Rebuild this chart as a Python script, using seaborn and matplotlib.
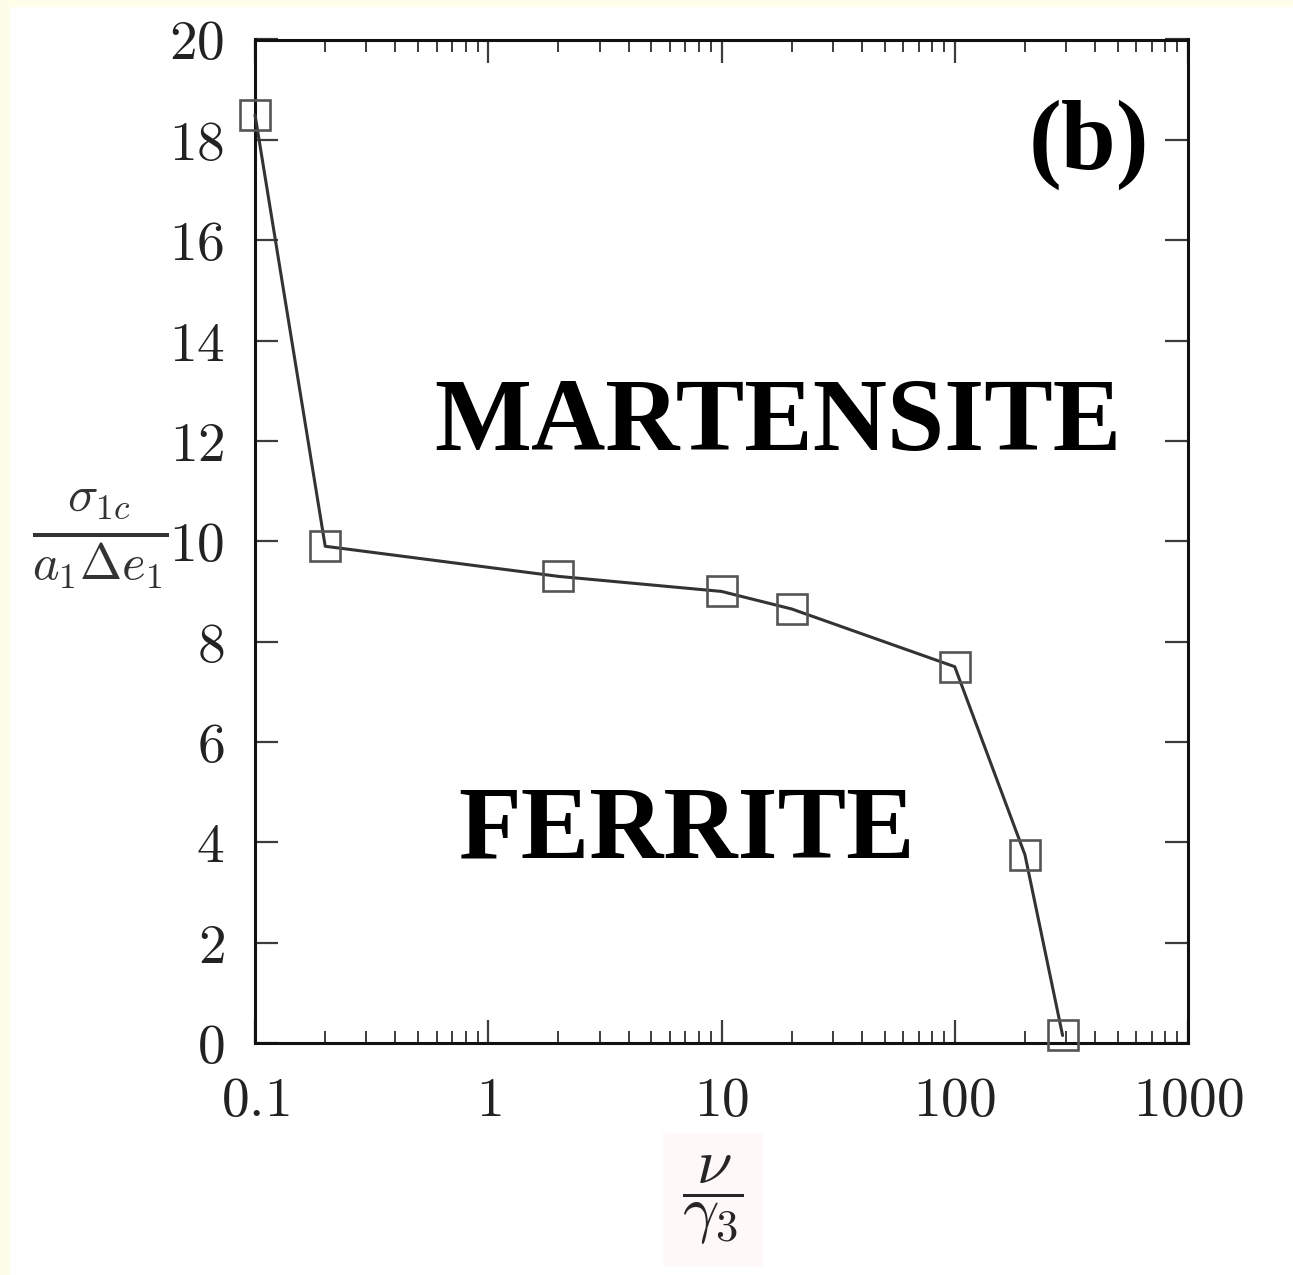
import numpy as np
import pandas as pd
import matplotlib
matplotlib.use("Agg")
import matplotlib.pyplot as plt
from matplotlib.patches import Rectangle
from matplotlib.ticker import FixedLocator, FixedFormatter, LogLocator, NullFormatter
import seaborn as sns

# Critical stress vs. rate ratio (phase boundary)
nu_over_gamma = [0.1, 0.2, 2, 10, 20, 100, 200, 290]
sigma_crit = [18.5, 9.9, 9.3, 9.0, 8.65, 7.5, 3.75, 0.15]

x_ticks = [0.1, 1, 10, 100, 1000]
x_tick_labels = ["$0.1$", "$1$", "$10$", "$100$", "$1000$"]
y_ticks = [0, 2, 4, 6, 8, 10, 12, 14, 16, 18, 20]
y_tick_labels = [f"${v}$" for v in y_ticks]

region_labels = ["MARTENSITE", "FERRITE"]
panel_label = "(b)"

sns.set_style("ticks")
plt.rcParams["mathtext.fontset"] = "cm"
plt.rcParams["font.family"] = ["Liberation Serif", "DejaVu Serif"]

W, H = 1293, 1275
fig = plt.figure(figsize=(W / 100, H / 100), dpi=100, facecolor="white")

# cream page margin on the left and top
cream = "#fefee8"
fig.patches.append(Rectangle((0, 0), 9 / W, 1, transform=fig.transFigure, color=cream, zorder=0))
fig.patches.append(Rectangle((0, 1 - 6 / H), 1, 6 / H, transform=fig.transFigure, color=cream, zorder=0))

left, right, top, bottom = 255, 1188, 39.5, 1043
ax = fig.add_axes([left / W, 1 - bottom / H, (right - left) / W, (bottom - top) / H])
ax.set_xscale("log")

df = pd.DataFrame({"ratio": nu_over_gamma, "sigma": sigma_crit})
sns.lineplot(data=df, x="ratio", y="sigma", ax=ax, color="#333333", lw=2.2,
             marker="s", markersize=21, markerfacecolor="none",
             markeredgecolor="#555555", markeredgewidth=1.9, clip_on=False, zorder=3)

ax.set_xlim(0.1, 1000)
ax.set_ylim(0, 20)

ax.xaxis.set_major_locator(FixedLocator(x_ticks))
ax.xaxis.set_major_formatter(FixedFormatter(x_tick_labels))
ax.xaxis.set_minor_locator(LogLocator(base=10, subs=np.arange(2, 10)))
ax.xaxis.set_minor_formatter(NullFormatter())
ax.yaxis.set_major_locator(FixedLocator(y_ticks))
ax.yaxis.set_major_formatter(FixedFormatter(y_tick_labels))

ax.tick_params(which="major", direction="in", top=True, right=True,
               length=16.5, width=1.6, color="#3c3c3c", labelsize=40, labelcolor="#222222")
ax.tick_params(which="minor", direction="in", top=True, right=True,
               length=8.5, width=1.4, color="#3c3c3c")
ax.tick_params(axis="y", which="major", pad=22)
ax.tick_params(axis="x", which="major", pad=24)

for sp in ax.spines.values():
    sp.set_linewidth(2.2)
    sp.set_color("#111111")

ax.set_ylabel(r"$\frac{\sigma_{1c}}{a_1\Delta e_1}$", rotation=0, fontsize=52,
              va="center", ha="center", color="#333333")
ax.yaxis.set_label_coords(-0.166, 0.502)

ax.set_xlabel(r"$\dfrac{\nu}{\gamma_3}$", fontsize=46, va="center", ha="center",
              bbox=dict(boxstyle="square,pad=0.3", fc="#fff8f8", ec="none"))
ax.xaxis.set_label_coords(0.491, -0.156)

ax.text(0.5606, 0.616, region_labels[0], transform=ax.transAxes, fontsize=74,
        fontweight="bold", ha="center", va="center", color="black")
ax.text(0.463, 0.210, region_labels[1], transform=ax.transAxes, fontsize=74,
        fontweight="bold", ha="center", va="center", color="black")
ax.text(0.894, 0.895, panel_label, transform=ax.transAxes, fontsize=71,
        fontweight="bold", ha="center", va="center", color="black")

fig.savefig("out.png", dpi=100, facecolor=fig.get_facecolor())
